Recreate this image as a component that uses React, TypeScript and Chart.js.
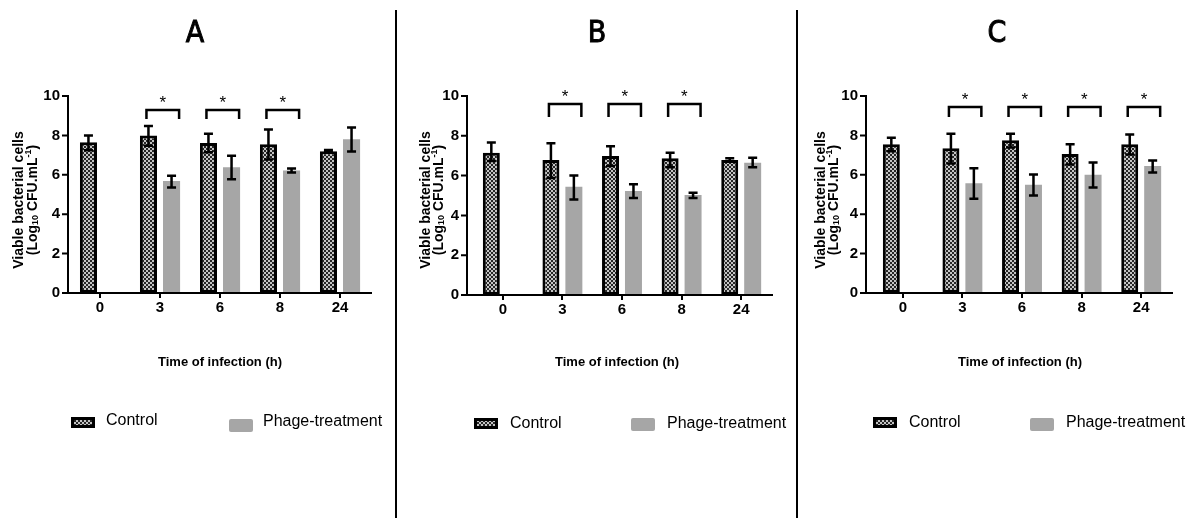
import React, { useEffect, useRef } from "react";
import { Chart, registerables } from "chart.js";

Chart.register(...registerables);

// ---------- DATA ----------
const timeLabels = ["0", "3", "6", "8", "24"];
const yTickValues = [0, 2, 4, 6, 8, 10];
const seriesNames = ["Control", "Phage-treatment"];
const panelLetters = ["A", "B", "C"];
const xAxisTitle = "Time of infection (h)";
const yAxisTitleLine1 = "Viable bacterial cells";

// Panel A
const controlMeanA = [7.65, 8.0, 7.62, 7.55, 7.2];
const controlLowA = [7.25, 7.48, 7.15, 6.78, 7.13];
const controlHighA = [8.0, 8.48, 8.08, 8.3, 7.26];
const phageMeanA = [null, 5.68, 6.38, 6.22, 7.8];
const phageLowA = [null, 5.35, 5.78, 6.12, 7.18];
const phageHighA = [null, 5.95, 6.97, 6.32, 8.4];
const significantA = ["3", "6", "8"];

// Panel B
const controlMeanB = [7.15, 6.78, 6.98, 6.87, 6.78];
const controlLowB = [6.73, 5.88, 6.48, 6.42, 6.7];
const controlHighB = [7.66, 7.62, 7.48, 7.15, 6.87];
const phageMeanB = [null, 5.44, 5.23, 5.02, 6.65];
const phageLowB = [null, 4.8, 4.88, 4.88, 6.42];
const phageHighB = [null, 6.0, 5.56, 5.14, 6.9];
const significantB = ["3", "6", "8"];

// Panel C
const controlMeanC = [7.55, 7.35, 7.75, 7.05, 7.55];
const controlLowC = [7.2, 6.57, 7.38, 6.52, 7.03];
const controlHighC = [7.88, 8.08, 8.08, 7.55, 8.05];
const phageMeanC = [null, 5.57, 5.5, 6.0, 6.45];
const phageLowC = [null, 4.78, 4.95, 5.35, 6.12];
const phageHighC = [null, 6.33, 6.02, 6.63, 6.72];
const significantC = ["3", "6", "8", "24"];

const panelData = [
  { control: controlMeanA, cLow: controlLowA, cHigh: controlHighA, phage: phageMeanA, pLow: phageLowA, pHigh: phageHighA, sig: significantA },
  { control: controlMeanB, cLow: controlLowB, cHigh: controlHighB, phage: phageMeanB, pLow: phageLowB, pHigh: phageHighB, sig: significantB },
  { control: controlMeanC, cLow: controlLowC, cHigh: controlHighC, phage: phageMeanC, pLow: phageLowC, pHigh: phageHighC, sig: significantC },
];

// ---------- LAYOUT (page coordinates) ----------
const H = 518;
const layouts = [
  {
    canvasLeft: 0, canvasWidth: 395, axisX: 68, areaLeft: 70, areaRight: 370, top: 96, bottom: 293,
    titleX: 195, xTitleX: 220, yT1X: 19, yT2X: 33, bracketTop: 9.29, bracketLeg: 8.83,
    ctrlBox: [71, 417], ctrlText: [106, 421], phBox: [229, 419], phText: [263, 422],
  },
  {
    canvasLeft: 397, canvasWidth: 399, axisX: 467, areaLeft: 473, areaRight: 771, top: 96, bottom: 295,
    titleX: 597, xTitleX: 617, yT1X: 426, yT2X: 439, bracketTop: 9.6, bracketLeg: 8.94,
    ctrlBox: [474, 418], ctrlText: [510, 423.5], phBox: [631, 418], phText: [667, 423.5],
  },
  {
    canvasLeft: 798, canvasWidth: 392, axisX: 866, areaLeft: 873, areaRight: 1171, top: 96, bottom: 293,
    titleX: 997, xTitleX: 1020, yT1X: 821, yT2X: 834, bracketTop: 9.44, bracketLeg: 8.93,
    ctrlBox: [873, 417], ctrlText: [909, 422.5], phBox: [1030, 418], phText: [1066, 422.5],
  },
];

const SANS = '"Liberation Sans", Arial, sans-serif';
const PHAGE_COLOR = "#a6a6a6";

function makePattern(ctx: CanvasRenderingContext2D) {
  const c = document.createElement("canvas");
  c.width = 4;
  c.height = 4;
  const g = c.getContext("2d")!;
  g.fillStyle = "#262626";
  g.fillRect(0, 0, 4, 4);
  g.fillStyle = "#c4c4c4";
  g.fillRect(0, 0, 2, 2);
  g.fillRect(2, 2, 2, 2);
  return ctx.createPattern(c, "repeat")!;
}

function Panel({ index }: { index: number }) {
  const ref = useRef<HTMLCanvasElement>(null);
  const L = layouts[index];

  useEffect(() => {
    const canvas = ref.current!;
    const ctx = canvas.getContext("2d")!;
    const D = panelData[index];
    const off = L.canvasLeft;
    const pattern = makePattern(ctx);

    const overlay = {
      id: "overlay" + index,
      afterDatasetsDraw(chart: any) {
        const c = chart.ctx as CanvasRenderingContext2D;
        const ys = chart.scales.y;
        const m0 = chart.getDatasetMeta(0);
        const m1 = chart.getDatasetMeta(1);
        c.save();
        c.strokeStyle = "#000";
        c.fillStyle = "#000";
        c.lineWidth = 2.5;
        const cap = 9;
        const drawErr = (meta: any, lows: (number | null)[], highs: (number | null)[]) => {
          meta.data.forEach((bar: any, i: number) => {
            const lo = lows[i];
            const hi = highs[i];
            if (lo == null || hi == null) return;
            const x = bar.x;
            const yl = ys.getPixelForValue(lo);
            const yh = ys.getPixelForValue(hi);
            c.beginPath();
            c.moveTo(x, yl);
            c.lineTo(x, yh);
            c.moveTo(x - cap / 2, yl);
            c.lineTo(x + cap / 2, yl);
            c.moveTo(x - cap / 2, yh);
            c.lineTo(x + cap / 2, yh);
            c.stroke();
          });
        };
        drawErr(m0, D.cLow, D.cHigh);
        drawErr(m1, D.pLow, D.pHigh);

        // significance brackets
        D.sig.forEach((lbl) => {
          const i = timeLabels.indexOf(lbl);
          const cb = m0.data[i];
          const pb = m1.data[i];
          const x1 = cb.x - 2;
          const x2 = pb.x + pb.width / 2 - 1;
          const yt = ys.getPixelForValue(L.bracketTop);
          const yb = ys.getPixelForValue(L.bracketLeg);
          c.lineJoin = "miter";
          c.beginPath();
          c.moveTo(x1, yb);
          c.lineTo(x1, yt);
          c.lineTo(x2, yt);
          c.lineTo(x2, yb);
          c.stroke();
          c.font = `17px ${SANS}`;
          c.textAlign = "center";
          c.textBaseline = "alphabetic";
          c.fillText("*", (x1 + x2) / 2, yt - 12 + 9.7);
        });

        // axes
        c.lineWidth = 2;
        const ax = L.axisX - off;
        const yTop = ys.getPixelForValue(10);
        const yBot = ys.getPixelForValue(0);
        c.beginPath();
        c.moveTo(ax, yTop - 1);
        c.lineTo(ax, yBot + 1);
        c.moveTo(ax - 1, yBot);
        c.lineTo(L.areaRight - off + 2, yBot);
        yTickValues.forEach((v) => {
          const py = ys.getPixelForValue(v);
          c.moveTo(ax - 6, py);
          c.lineTo(ax, py);
        });
        c.stroke();
        c.restore();
      },
      afterDraw(chart: any) {
        const c = chart.ctx as CanvasRenderingContext2D;
        c.save();
        c.fillStyle = "#000";
        c.strokeStyle = "#000";
        // Panel letter
        c.font = `30px "DejaVu Sans Condensed", "DejaVu Sans", sans-serif`;
        c.textAlign = "center";
        c.textBaseline = "middle";
        c.lineWidth = 0.9;
        c.fillText(panelLetters[index], L.titleX - off, 34);
        c.strokeText(panelLetters[index], L.titleX - off, 34);

        // X title
        c.font = `bold 13px ${SANS}`;
        c.fillText(xAxisTitle, L.xTitleX - off, 362);

        // Y title
        const cy = 200;
        c.save();
        c.translate(L.yT1X - off, cy);
        c.rotate(-Math.PI / 2);
        c.font = `bold 14px ${SANS}`;
        c.textAlign = "center";
        c.textBaseline = "middle";
        c.fillText(yAxisTitleLine1, 0, 0);
        c.restore();

        c.save();
        c.translate(L.yT2X - off, cy);
        c.rotate(-Math.PI / 2);
        c.textBaseline = "middle";
        c.textAlign = "left";
        const main = `bold 14px ${SANS}`;
        const small = `bold 9px ${SANS}`;
        const segs = [
          { t: "(Log", f: main, dy: 0 },
          { t: "10", f: small, dy: 3 },
          { t: " CFU.mL", f: main, dy: 0 },
          { t: "-1", f: small, dy: -4 },
          { t: ")", f: main, dy: 0 },
        ];
        let total = 0;
        segs.forEach((s) => {
          c.font = s.f;
          total += c.measureText(s.t).width;
        });
        let x = -total / 2;
        segs.forEach((s) => {
          c.font = s.f;
          c.fillText(s.t, x, s.dy);
          x += c.measureText(s.t).width;
        });
        c.restore();

        // Legend
        const [cbx, cby] = L.ctrlBox;
        c.fillStyle = "#000";
        c.fillRect(cbx - off, cby, 24, 11);
        c.fillStyle = pattern;
        c.fillRect(cbx - off + 3, cby + 3, 18, 5);
        const [pbx, pby] = L.phBox;
        c.fillStyle = PHAGE_COLOR;
        c.beginPath();
        (c as any).roundRect ? (c as any).roundRect(pbx - off, pby, 24, 13, 2) : c.rect(pbx - off, pby, 24, 13);
        c.fill();
        c.fillStyle = "#000";
        c.font = `16px ${SANS}`;
        c.textAlign = "left";
        c.textBaseline = "middle";
        c.fillText(seriesNames[0], L.ctrlText[0] - off, L.ctrlText[1]);
        c.fillText(seriesNames[1], L.phText[0] - off, L.phText[1]);
        c.restore();
      },
    };

    const tickFont = { family: SANS, size: 15, weight: "bold" as const };

    const chart = new Chart(ctx, {
      type: "bar",
      data: {
        labels: timeLabels,
        datasets: [
          {
            label: seriesNames[0],
            data: D.control,
            backgroundColor: pattern,
            borderColor: "#000",
            borderWidth: 3,
            borderSkipped: false,
            categoryPercentage: 0.77,
            barPercentage: 0.74,
          },
          {
            label: seriesNames[1],
            data: D.phage as any,
            backgroundColor: PHAGE_COLOR,
            borderWidth: 0,
            categoryPercentage: 0.77,
            barPercentage: 0.74,
          },
        ],
      },
      options: {
        animation: false,
        responsive: false,
        devicePixelRatio: 1,
        layout: {
          padding: {
            left: 0,
            top: L.top,
            right: L.canvasWidth - (L.areaRight - off),
            bottom: H - L.bottom - 40,
          },
        },
        plugins: {
          legend: { display: false },
          title: { display: false },
          tooltip: { enabled: false },
        },
        scales: {
          x: {
            type: "category",
            offset: true,
            grid: {
              display: true,
              drawOnChartArea: false,
              drawTicks: true,
              tickLength: 5,
              color: "#000",
              lineWidth: 2,
              offset: false,
            },
            border: { display: false },
            ticks: { color: "#000", font: tickFont, padding: 1, maxRotation: 0, autoSkip: false },
            afterFit: (s: any) => {
              s.height = 40;
            },
          },
          y: {
            min: 0,
            max: 10,
            grid: { display: false, drawTicks: false, tickLength: 0 },
            border: { display: false },
            ticks: { color: "#000", font: tickFont, padding: L.areaLeft - L.axisX + 8 },
            afterBuildTicks: (s: any) => {
              s.ticks = yTickValues.map((v) => ({ value: v }));
            },
            afterFit: (s: any) => {
              s.width = L.areaLeft - off;
            },
          },
        },
      },
      plugins: [overlay],
    });
    return () => chart.destroy();
  }, [index]);

  return (
    <canvas
      ref={ref}
      width={L.canvasWidth}
      height={H}
      style={{ position: "absolute", left: L.canvasLeft, top: 0, width: L.canvasWidth, height: H }}
    />
  );
}

export default function App() {
  return (
    <div style={{ position: "absolute", left: 0, top: 0, width: 1190, height: H, background: "#fff", overflow: "hidden" }}>
      <Panel index={0} />
      <Panel index={1} />
      <Panel index={2} />
      <div style={{ position: "absolute", left: 395, top: 10, width: 2, height: H - 10, background: "#000" }} />
      <div style={{ position: "absolute", left: 796, top: 10, width: 2, height: H - 10, background: "#000" }} />
    </div>
  );
}
